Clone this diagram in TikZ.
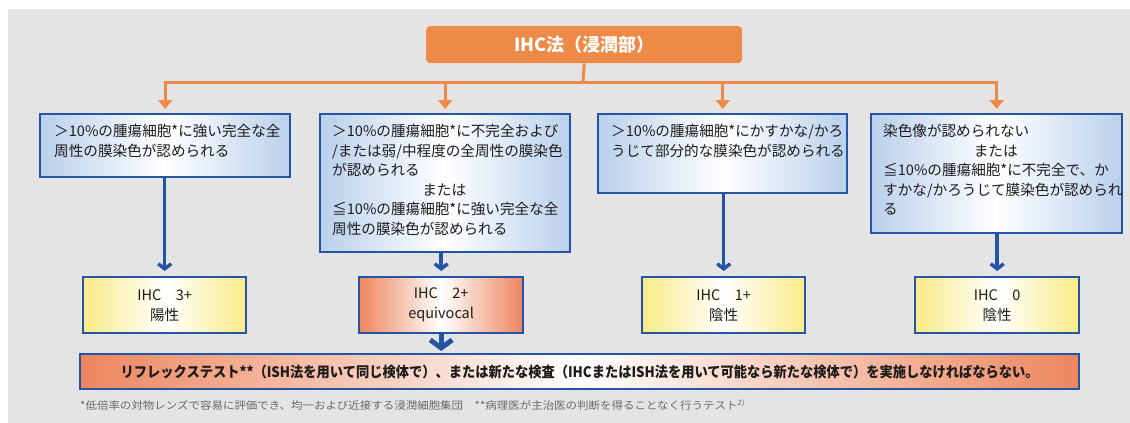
\documentclass[tikz,border=0pt]{standalone}
\usepackage{fontspec}
\usepackage{graphicx}
\setmainfont{Noto Sans CJK JP}
\usetikzlibrary{arrows.meta}
\definecolor{bg}{RGB}{228,228,228}
\definecolor{org}{RGB}{238,138,72}
\definecolor{bluebd}{RGB}{36,84,166}
\definecolor{lblue}{RGB}{186,208,236}
\definecolor{lyel}{RGB}{249,235,135}
\definecolor{lorg}{RGB}{237,134,94}
\definecolor{txt}{RGB}{28,28,28}
\definecolor{foot}{RGB}{105,105,105}
\begin{document}
\begin{tikzpicture}[x=1pt,y=-1pt,
  bluebox/.style={draw=bluebd, line width=2.4pt, inner sep=0pt, anchor=north west,
    left color=lblue, right color=lblue, middle color=white},
  yelbox/.style={draw=bluebd, line width=2.4pt, inner sep=0pt, anchor=north west,
    left color=lyel, right color=lyel, middle color=white, align=center,
    font=\fontsize{14.5}{20}\selectfont, text=txt},
  orgbox/.style={draw=bluebd, line width=2.4pt, inner sep=0pt, anchor=north west,
    left color=lorg, right color=lorg, middle color=white, align=center,
    font=\fontsize{14.5}{20}\selectfont, text=txt},
  btext/.style={anchor=north west, inner sep=0pt, align=left, text=txt,
    font=\fontsize{14.6}{19.6}\selectfont},
  oline/.style={draw=org, line width=3pt},
  oarrow/.style={oline, -{Triangle[length=9pt,width=14pt]}, shorten >=4pt},
  barrow/.style={draw=bluebd, line width=3.5pt, -{Straight Barb[length=5pt,width=13pt]}, shorten >=5pt},
  bigarrow/.style={draw=bluebd, line width=5pt, -{Straight Barb[length=8pt,width=22pt]}, shorten >=2pt},
]
\useasboundingbox (0,0) rectangle (1130,423);
\fill[white] (0,0) rectangle (1130,423);
\fill[bg] (8,9) rectangle (1130,423);

% top box
\node[fill=org, rounded corners=4pt, anchor=north west, minimum width=316pt, minimum height=37pt,
  inner sep=0pt, text=white, font=\fontsize{18}{20}\selectfont\bfseries] (T) at (426,26) {IHC法（浸潤部）};

% criteria boxes
\node[bluebox, minimum width=250pt, minimum height=63pt] (b1) at (39,113) {};
\node[bluebox, minimum width=250pt, minimum height=138pt] (b2) at (319,113) {};
\node[bluebox, minimum width=249pt, minimum height=79pt] (b3) at (597,113) {};
\node[bluebox, minimum width=251pt, minimum height=119pt] (b4) at (870,113) {};

\node[btext, xshift=15pt, yshift=-11pt] (t1) at (b1.north west)
  {＞10\%の腫瘍細胞*に強い完全な全\\周性の膜染色が認められる};
\node[btext, xshift=13pt, yshift=-11pt] (t2) at (b2.north west)
  {＞10\%の腫瘍細胞*に不完全および\\/または弱/中程度の全周性の膜染色\\が認められる\\\makebox[224pt][c]{または}\\≦10\%の腫瘍細胞*に強い完全な全\\周性の膜染色が認められる};
\node[btext, xshift=14pt, yshift=-11pt] (t3) at (b3.north west)
  {＞10\%の腫瘍細胞*にかすかな/かろ\\うじて部分的な膜染色が認められる};
\node[btext, xshift=13pt, yshift=-11pt] (t4) at (b4.north west)
  {染色像が認められない\\\makebox[225pt][c]{または}\\≦10\%の腫瘍細胞*に不完全で、か\\すかな/かろうじて膜染色が認められ\\る};

% result boxes
\node[yelbox, minimum width=163pt, minimum height=56pt] (r1) at (82,276) {IHC　3+\\陽性};
\node[orgbox, minimum width=164pt, minimum height=56pt] (r2) at (358,276) {IHC　2+\\equivocal};
\node[yelbox, minimum width=163pt, minimum height=56pt] (r3) at (641,276) {IHC　1+\\陰性};
\node[yelbox, minimum width=164pt, minimum height=56pt] (r4) at (914,276) {IHC　0\\陰性};

% final box
\node[orgbox, minimum width=999pt, minimum height=35pt] (F) at (79,353)
  {\resizebox{918pt}{\height}{\bfseries リフレックステスト**（ISH法を用いて同じ検体で）、または新たな検査（IHCまたはISH法を用いて可能なら新たな検体で）を実施しなければならない。}};

% footnote
\node[anchor=west, inner sep=0pt, text=foot, font=\fontsize{10.5}{12}\selectfont] (fn) at (80,405)
  {\resizebox{665pt}{\height}{*低倍率の対物レンズで容易に評価でき、均一および近接する浸潤細胞集団　**病理医が主治医の判断を得ることなく行うテスト\textsuperscript{2)}}};

% orange connectors
\coordinate (bus) at (583,82);
\draw[oline] (T.south) -- (bus);
\draw[oarrow] (bus) -| (b1.north);
\draw[oarrow] (bus) -| (b2.north);
\draw[oarrow] (bus) -| (b3.north);
\draw[oarrow] (bus) -| (b4.north);

% blue connectors
\draw[barrow] (b1.south -| r1.north) -- (r1.north);
\draw[barrow] (b2.south -| r2.north) -- (r2.north);
\draw[barrow] (b3.south -| r3.north) -- (r3.north);
\draw[barrow] (b4.south -| r4.north) -- (r4.north);
\draw[bigarrow] (r2.south) -- (F.north -| r2.south);
\end{tikzpicture}
\end{document}
